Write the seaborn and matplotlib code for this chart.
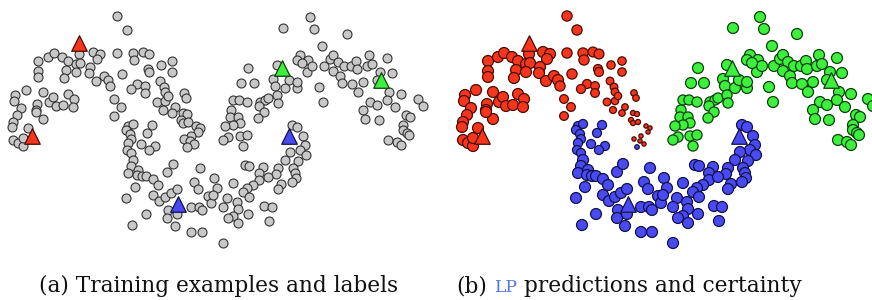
import matplotlib
matplotlib.use("Agg")
import matplotlib.pyplot as plt
import pandas as pd
import seaborn as sns

# ---------------------------------
# data (pixel units, y grows downwards)
# ---------------------------------

red_x = [79, 93, 100, 97, 38, 48, 54, 62, 68, 76, 80, 38, 38, 66, 64, 76, 90, 89, 96, 104, 108, 110,
         26, 15, 14, 21, 17, 43, 37, 36, 49, 53, 56, 63, 68, 74, 73, 43, 13, 12, 36, 28, 13, 18, 23, 23,
         117, 127, 117, 133, 134, 143, 149, 122, 148, 149, 161, 172, 172, 160, 164, 165, 137, 131, 145,
         145, 114, 121, 114, 157, 165, 168, 163, 175, 184, 186, 172, 183, 187, 181, 183, 188, 196, 200,
         198, 191, 184, 190, 194]
red_y = [54, 52, 54, 59, 61, 57, 53, 57, 61, 64, 63, 71, 77, 70, 78, 72, 67, 73, 81, 76, 80, 86,
         90, 95, 101, 108, 115, 92, 104, 110, 102, 97, 106, 105, 94, 99, 107, 119, 122, 127, 112, 128,
         140, 143, 146, 138,
         16, 30, 53, 53, 60, 52, 54, 74, 69, 72, 65, 61, 72, 81, 87, 92, 84, 89, 86,
         93, 99, 107, 116, 102, 101, 96, 110, 107, 93, 98, 113, 113, 114, 120, 123, 122, 126, 128,
         132, 136, 139, 141, 144]
red_c = [1.0] * 21 + [0.86] + [1.0] * 24 + \
        [0.86, 0.86, 0.86, 0.86, 0.86, 0.8, 0.8, 0.86, 0.65, 0.65, 0.55, 0.55, 0.55, 0.45, 0.45, 0.45,
         0.65, 0.65, 0.6, 0.6, 0.6, 0.6, 0.6, 0.45, 0.4, 0.4, 0.35, 0.3, 0.3, 0.3, 0.3, 0.15, 0.15,
         0.15, 0.15, 0.15, 0.08, 0.08, 0.08, 0.08, 0.08, 0.08, 0.08]

blue_x = [128, 133, 126, 130, 131, 128, 152, 147, 141, 155, 149, 127, 131, 187,
          133, 131, 128, 138, 137, 142, 146, 153, 158, 167, 173, 135, 126, 153, 159, 165, 171, 177,
          168, 167, 177, 175, 146, 132, 191, 199, 202, 194, 198, 200, 208, 211, 214, 217, 191, 202,
          245, 249, 263, 259, 259, 253, 247, 243, 233, 249, 213, 227, 223, 237, 238, 233, 228, 238,
          248, 264, 272, 269, 223,
          292, 297, 303, 305, 300, 306, 290, 285, 298, 293, 295, 296, 292, 281, 278, 278, 276, 268]
blue_y = [126, 124, 130, 134, 139, 143, 125, 133, 144, 146, 150, 150, 153, 147,
          160, 166, 173, 170, 175, 176, 176, 179, 185, 172, 164, 187, 198, 195, 201, 197, 193, 189,
          210, 218, 214, 226, 214, 225, 207, 207, 210, 182, 189, 168, 196, 203, 178, 188, 232, 232,
          165, 166, 167, 173, 180, 185, 188, 192, 183, 197, 195, 198, 207, 202, 209, 216, 218, 223,
          214, 206, 207, 221, 243,
          125, 127, 136, 145, 150, 155, 152, 160, 161, 168, 173, 178, 182, 184, 189, 168, 174, 177]
blue_c = [0.65] * 13 + [0.1] + [1.0] * (len(blue_x) - 14)

green_x = [310, 283, 314, 347, 322, 277, 248, 241, 254, 273, 275, 285, 289, 297, 297, 300, 297, 308,
           307, 312, 302, 324, 330, 333, 338, 333, 340, 344, 351, 356, 357, 342, 352, 363, 358, 319,
           323, 367, 369, 372, 387, 380, 392, 377, 389, 401, 387, 395, 370, 363, 377, 365, 379, 418,
           423, 406, 410, 403, 403, 407, 409, 388, 397, 401,
           233, 239, 247, 231, 230, 238, 240, 233, 260, 265, 268, 259, 264, 277, 278, 258, 225, 228,
           223, 240, 247, 243]
green_y = [17, 28, 29, 34, 46, 65, 68, 83, 83, 79, 86, 88, 80, 88, 82, 55, 60, 60,
           72, 66, 63, 66, 59, 55, 62, 71, 76, 66, 66, 61, 69, 83, 84, 82, 92, 87,
           102, 66, 55, 64, 58, 72, 73, 80, 92, 94, 100, 107, 102, 110, 105, 119, 120, 99,
           106, 115, 117, 125, 130, 133, 135, 140, 142, 145,
           100, 100, 102, 110, 117, 117, 123, 125, 102, 100, 98, 106, 112, 95, 103, 118, 126, 137,
           140, 136, 135, 146]
green_c = [1.0] * 64 + [0.85] * 22

# labelled examples (triangles)
lab_x = [79, 32, 178, 289, 282, 381]
lab_y = [43, 136, 204, 136, 68, 80]
lab_cls = ["red", "red", "blue", "blue", "green", "green"]

face = {"red": "#f5361c", "blue": "#4a4af2", "green": "#3cf03c"}
edge = {"red": "#4a0c04", "blue": "#12124a", "green": "#0c400c"}

# ---------------------------------
# tablas
# ---------------------------------

partes = []
for cls, xs, ys, cs in [("red", red_x, red_y, red_c),
                        ("blue", blue_x, blue_y, blue_c),
                        ("green", green_x, green_y, green_c)]:
    partes.append(pd.DataFrame({"x": xs, "y": ys, "cert": cs, "cls": cls}))
df = pd.concat(partes, ignore_index=True)
lab = pd.DataFrame({"x": lab_x, "y": lab_y, "cls": lab_cls})

# ---------------------------------
# figura
# ---------------------------------

sns.set_theme(style="white")
W, H = 872, 300
fig = plt.figure(figsize=(W / 100, H / 100), dpi=100)

off = 450
ax1 = fig.add_axes([0, 50 / H, 436 / W, 250 / H])
ax2 = fig.add_axes([off / W, 50 / H, 436 / W, 250 / H])

# (a) training examples: everything grey, labels as triangles
sns.scatterplot(data=df, x="x", y="y", ax=ax1, color="#c8c8c8", edgecolor="#333333",
                linewidth=0.8, s=42, legend=False)
for cls in ["red", "blue", "green"]:
    sub = lab[lab["cls"] == cls]
    sns.scatterplot(data=sub, x="x", y="y", ax=ax1, marker="^", s=125, color=face[cls],
                    edgecolor=edge[cls], linewidth=0.9, legend=False)

# (b) predictions, size = certainty
for cls in ["red", "blue", "green"]:
    sub = df[df["cls"] == cls]
    sns.scatterplot(data=sub, x="x", y="y", ax=ax2, size="cert", sizes=(5, 62),
                    size_norm=(0, 1), color=face[cls], edgecolor=edge[cls],
                    linewidth=0.9, legend=False)
    sub = lab[lab["cls"] == cls]
    sns.scatterplot(data=sub, x="x", y="y", ax=ax2, marker="^", s=125, color=face[cls],
                    edgecolor=edge[cls], linewidth=0.9, legend=False)

for ax in (ax1, ax2):
    ax.set_xlim(0, 436)
    ax.set_ylim(250, 0)
    ax.axis("off")

# ---------------------------------
# captions
# ---------------------------------

serif = ["DejaVu Serif", "Liberation Serif"]
yb = 8 / H

fig.canvas.draw()
r = fig.canvas.get_renderer()

# fit the font so caption (a) spans about 358 px like the reference
ta = fig.text(219 / W, yb, "(a) Training examples and labels", ha="center", va="baseline",
              fontsize=16, family=serif, color="#111111")
fs = 16 * 358 / ta.get_window_extent(r).width
ta.set_fontsize(fs)

piezas = [("(b)", fs, "#111111", 7), ("LP", fs * 0.8, "#5577dd", 7),
          ("predictions and certainty", fs, "#111111", 0)]
x = 456
for s, size, col, gap in piezas:
    t = fig.text(x / W, yb, s, ha="left", va="baseline", fontsize=size, family=serif, color=col)
    bb = t.get_window_extent(r)
    x = bb.x1 + gap

fig.savefig("out.png", dpi=100)
